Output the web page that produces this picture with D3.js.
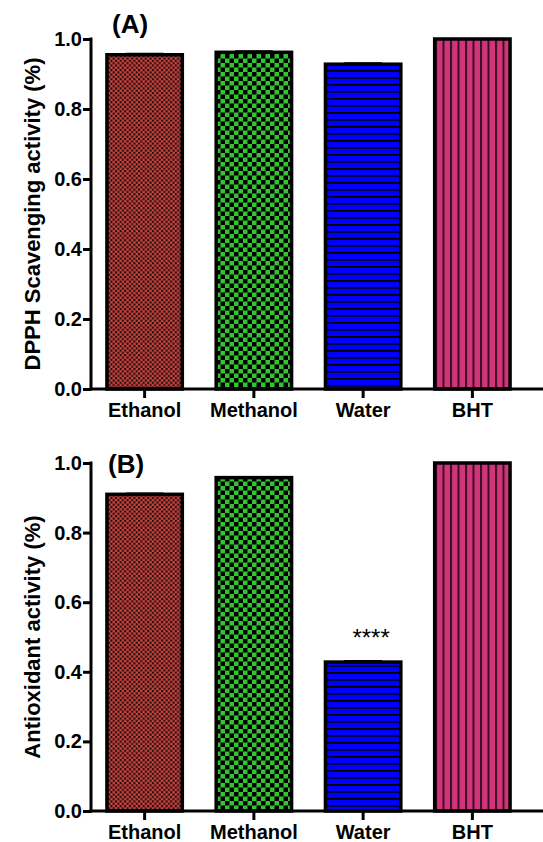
<!DOCTYPE html>
<html lang="en">
<head>
<meta charset="UTF-8">
<title>DPPH / Antioxidant activity</title>
<script src="https://cdn.jsdelivr.net/npm/d3@7"></script>
<style>
  body { margin: 0; background: #fff; }
  svg text { font-family: "Liberation Sans", Arial, sans-serif; }
</style>
</head>
<body>
<div id="chart"></div>
<script>
const categories = ["Ethanol", "Methanol", "Water", "BHT"];
const dpphValues = [0.955, 0.962, 0.928, 1.0];
const dpphErrors = [0.003, 0.003, 0.003, 0];
const antioxValues = [0.91, 0.958, 0.428, 1.0];
const antioxErrors = [0.002, 0.002, 0.003, 0];
const yTicks = [0, 0.2, 0.4, 0.6, 0.8, 1.0];

const width = 543;
const height = 842;

const svg = d3.select("#chart").append("svg")
    .attr("width", width)
    .attr("height", height);

// fill patterns, one per category
const defs = svg.append("defs");

const eth = defs.append("pattern").attr("id", "p0")
    .attr("patternUnits", "userSpaceOnUse").attr("width", 4.6).attr("height", 4.6);
eth.append("rect").attr("width", 4.6).attr("height", 4.6).attr("fill", "#cc4440");
eth.append("rect").attr("width", 2.1).attr("height", 2.1).attr("fill", "#1a0a0a");
eth.append("rect").attr("x", 2.3).attr("y", 2.3).attr("width", 2.1).attr("height", 2.1).attr("fill", "#1a0a0a");

const meth = defs.append("pattern").attr("id", "p1")
    .attr("patternUnits", "userSpaceOnUse").attr("width", 9).attr("height", 9);
meth.append("rect").attr("width", 9).attr("height", 9).attr("fill", "#33c433");
meth.append("rect").attr("width", 4.5).attr("height", 4.5).attr("fill", "#000");
meth.append("rect").attr("x", 4.5).attr("y", 4.5).attr("width", 4.5).attr("height", 4.5).attr("fill", "#000");

const wat = defs.append("pattern").attr("id", "p2")
    .attr("patternUnits", "userSpaceOnUse").attr("width", 10).attr("height", 7);
wat.append("rect").attr("width", 10).attr("height", 7).attr("fill", "#0000ff");
wat.append("rect").attr("width", 10).attr("height", 1.7).attr("fill", "#000");

const bht = defs.append("pattern").attr("id", "p3")
    .attr("patternUnits", "userSpaceOnUse").attr("width", 7.5).attr("height", 10);
bht.append("rect").attr("width", 7.5).attr("height", 10).attr("fill", "#d23479");
bht.append("rect").attr("width", 2).attr("height", 10).attr("fill", "#3a0d22");

const x = d3.scaleBand()
    .domain(categories)
    .range([90, 527])
    .paddingInner(0.31)
    .paddingOuter(0.155);

function panel(values, errors, top, bottom, label, yTitle, stars) {
  const y = d3.scaleLinear().domain([0, 1]).range([bottom, top]);
  const g = svg.append("g");

  // bars
  g.selectAll("rect.bar").data(values).join("rect")
      .attr("class", "bar")
      .attr("x", (d, i) => x(categories[i]))
      .attr("y", d => y(d))
      .attr("width", x.bandwidth())
      .attr("height", d => y(0) - y(d))
      .attr("fill", (d, i) => `url(#p${i})`)
      .attr("stroke", "#000")
      .attr("stroke-width", 3.5);

  // error bars (tiny)
  const eb = g.selectAll("g.err").data(values).join("g").attr("class", "err");
  eb.append("line")
      .attr("x1", (d, i) => x(categories[i]) + x.bandwidth() / 2)
      .attr("x2", (d, i) => x(categories[i]) + x.bandwidth() / 2)
      .attr("y1", d => y(d))
      .attr("y2", (d, i) => y(d + errors[i]))
      .attr("stroke", "#000").attr("stroke-width", 2);
  eb.append("line")
      .attr("x1", (d, i) => x(categories[i]) + x.bandwidth() * 0.25)
      .attr("x2", (d, i) => x(categories[i]) + x.bandwidth() * 0.75)
      .attr("y1", (d, i) => y(d + errors[i]))
      .attr("y2", (d, i) => y(d + errors[i]))
      .attr("stroke", "#000").attr("stroke-width", 2);

  // y axis
  const ya = g.append("g")
      .attr("transform", "translate(91,0)")
      .call(d3.axisLeft(y).tickValues(yTicks).tickFormat(d3.format(".1f")).tickSize(8).tickPadding(1));
  ya.select(".domain").remove();
  ya.selectAll(".tick line").attr("stroke", "#000").attr("stroke-width", 3);
  ya.selectAll(".tick text")
      .attr("font-size", 20).attr("font-weight", "bold").attr("fill", "#000")
      .attr("font-family", "'Liberation Sans', Arial, sans-serif");
  g.append("line")
      .attr("x1", 91).attr("x2", 91)
      .attr("y1", y(1) - 1.5).attr("y2", y(0) + 1.5)
      .attr("stroke", "#000").attr("stroke-width", 3);

  // x axis
  const xa = g.append("g")
      .attr("transform", `translate(0,${bottom})`)
      .call(d3.axisBottom(x).tickSize(9).tickPadding(5));
  xa.select(".domain").remove();
  xa.selectAll(".tick line").attr("stroke", "#000").attr("stroke-width", 3);
  xa.selectAll(".tick text")
      .attr("font-size", 20).attr("font-weight", "bold").attr("fill", "#000")
      .attr("font-family", "'Liberation Sans', Arial, sans-serif");
  g.append("line")
      .attr("x1", 89.5).attr("x2", width)
      .attr("y1", bottom).attr("y2", bottom)
      .attr("stroke", "#000").attr("stroke-width", 3);

  // y title
  g.append("text")
      .attr("transform", `translate(40,${(top + bottom) / 2}) rotate(-90)`)
      .attr("text-anchor", "middle")
      .attr("font-size", 22).attr("font-weight", "bold")
      .text(yTitle);

  // panel label
  g.append("text")
      .attr("x", label.x).attr("y", label.y)
      .attr("font-size", 26).attr("font-weight", "bold")
      .text(label.text);

  if (stars) {
    g.append("text")
        .attr("x", x(stars.cat) + x.bandwidth() / 2 + 8)
        .attr("y", y(values[categories.indexOf(stars.cat)]) - 16)
        .attr("text-anchor", "middle")
        .attr("font-size", 24)
        .text(stars.text);
  }
}

panel(dpphValues, dpphErrors, 39, 389, { text: "(A)", x: 112, y: 33 },
      "DPPH Scavenging activity (%)", null);
panel(antioxValues, antioxErrors, 463, 811, { text: "(B)", x: 108, y: 473 },
      "Antioxidant activity (%)", { cat: "Water", text: "****" });
</script>
</body>
</html>
